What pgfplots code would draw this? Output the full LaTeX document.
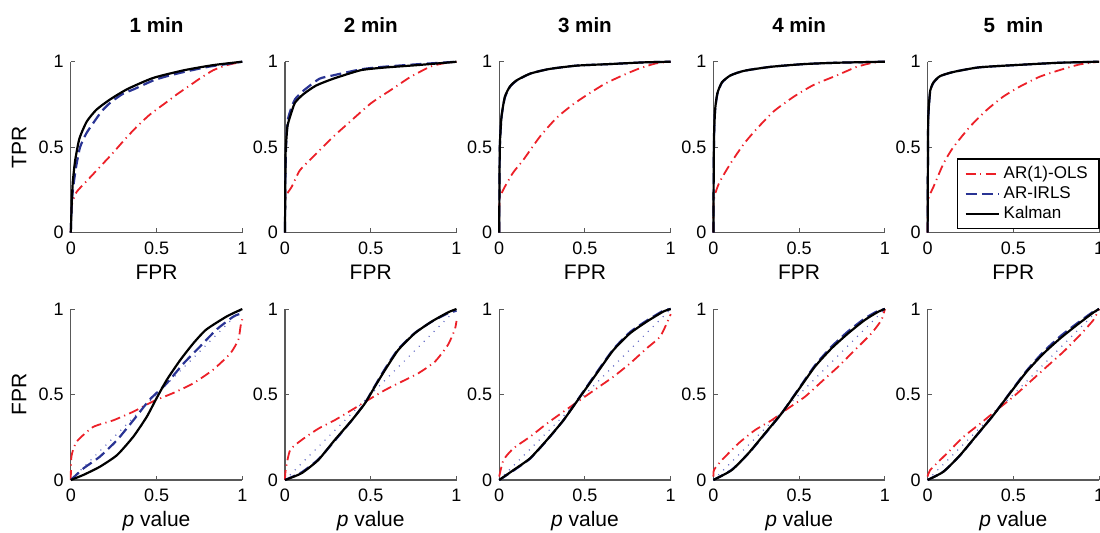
\documentclass[border=0pt]{standalone}
\usepackage{fontspec}
\setmainfont{Liberation Sans}
\usepackage{pgfplots}
\pgfplotsset{compat=1.18}
\definecolor{olsred}{RGB}{236,32,40}
\definecolor{irlsblue}{RGB}{42,52,148}
\definecolor{diagblue}{RGB}{96,104,196}

\pgfplotsset{
  every axis title shift=0pt,
  panel/.style={
    scale only axis, width=85.75pt, height=85.5pt,
    xmin=0, xmax=1, ymin=0, ymax=1,
    axis x line*=bottom, axis y line*=left,
    xtick={0,0.5,1}, ytick={0,0.5,1},
    xticklabels={0,0.5,1}, yticklabels={0,0.5,1},
    tick align=inside, major tick length=2.2pt,
    axis line style={black!65, line width=0.6pt},
    tick style={black!65, line width=0.5pt},
    tick label style={font=\fontsize{9}{10}\selectfont},
    xticklabel style={yshift=-1pt},
    clip=false,
    xlabel style={at={(axis description cs:0.5,-0.232)}, anchor=center, font=\fontsize{10.5}{12}\selectfont},
    ylabel style={at={(axis description cs:-0.3015,0.5)}, anchor=center, font=\fontsize{10.5}{12}\selectfont},
    title style={at={(axis description cs:0.5,1.215)}, anchor=center, font=\fontsize{10.3}{12}\selectfont\bfseries},
  },
  toprow/.style={panel, xlabel={FPR}},
  botrow/.style={panel, xlabel={\textit{p} value},
    xlabel style={at={(axis description cs:0.5,-0.238)}}},
  ols/.style={color=olsred, line width=0.9pt, dash pattern=on 5pt off 2.2pt on 0.6pt off 2.2pt, smooth, tension=0.35},
  irls/.style={color=irlsblue, line width=1.1pt, dash pattern=on 5.5pt off 2.6pt, smooth, tension=0.35},
  kalman/.style={color=black, line width=1.1pt, smooth, tension=0.35},
  diag/.style={color=diagblue, line width=0.6pt, dash pattern=on 0.5pt off 3pt},
}

\begin{document}
\begin{tikzpicture}
\path[use as bounding box] (0,0) rectangle (550pt,-266pt);

% ---------- top row: ROC ----------
\begin{axis}[toprow, at={(35.4pt,-116.35pt)}, anchor=south west, title={1 min}, ylabel={TPR}]
\addplot[ols] coordinates {(0,0) (0.003,0.12) (0.01,0.18) (0.035,0.24) (0.1,0.31) (0.17,0.385) (0.24,0.46) (0.31,0.54) (0.38,0.615) (0.46,0.69) (0.54,0.75) (0.62,0.81) (0.7,0.865) (0.75,0.9) (0.83,0.95) (0.91,0.98) (1,1)};
\addplot[irls] coordinates {(0,0) (0.005,0.15) (0.012,0.25) (0.03,0.38) (0.054,0.50) (0.09,0.58) (0.13,0.64) (0.18,0.71) (0.23,0.76) (0.3,0.81) (0.37,0.84) (0.48,0.89) (0.56,0.915) (0.66,0.94) (0.8,0.97) (0.9,0.985) (1,1)};
\addplot[kalman] coordinates {(0,0) (0.006,0.19) (0.012,0.3) (0.025,0.42) (0.05,0.55) (0.093,0.65) (0.15,0.72) (0.23,0.78) (0.33,0.84) (0.48,0.905) (0.66,0.95) (0.83,0.98) (1,1)};
\end{axis}

\begin{axis}[toprow, at={(142.5pt,-116.35pt)}, anchor=south west, title={2 min}]
\addplot[ols] coordinates {(0,0) (0.002,0.2) (0.04,0.27) (0.087,0.365) (0.18,0.46) (0.28,0.56) (0.38,0.65) (0.5,0.756) (0.61,0.83) (0.73,0.91) (0.845,0.97) (0.92,0.99) (1,1)};
\addplot[irls] coordinates {(0,0) (0.002,0.3) (0.006,0.5) (0.015,0.65) (0.03,0.71) (0.058,0.78) (0.107,0.83) (0.2,0.9) (0.28,0.92) (0.44,0.955) (0.57,0.97) (0.77,0.985) (1,1)};
\addplot[kalman] coordinates {(0,0) (0.002,0.3) (0.004,0.48) (0.014,0.62) (0.03,0.68) (0.058,0.76) (0.107,0.81) (0.18,0.86) (0.28,0.90) (0.44,0.95) (0.57,0.965) (0.77,0.98) (0.96,0.996) (1,1)};
\end{axis}

\begin{axis}[toprow, at={(249.6pt,-116.35pt)}, anchor=south west, title={3 min}]
\addplot[ols] coordinates {(0,0) (0.002,0.19) (0.023,0.25) (0.08,0.35) (0.14,0.425) (0.236,0.56) (0.333,0.67) (0.43,0.75) (0.526,0.815) (0.62,0.873) (0.72,0.92) (0.816,0.96) (0.913,0.99) (1,1)};
\addplot[irls] coordinates {(0,0) (0.002,0.34) (0.004,0.51) (0.0135,0.675) (0.033,0.79) (0.062,0.852) (0.1,0.888) (0.18,0.93) (0.29,0.957) (0.45,0.977) (0.64,0.986) (0.84,0.996) (1,1)};
\addplot[kalman] coordinates {(0,0) (0.002,0.35) (0.004,0.52) (0.0135,0.68) (0.033,0.795) (0.062,0.854) (0.1,0.89) (0.18,0.93) (0.29,0.957) (0.45,0.977) (0.64,0.986) (0.84,0.996) (1,1)};
\end{axis}

\begin{axis}[toprow, at={(356.7pt,-116.35pt)}, anchor=south west, title={4 min}]
\addplot[ols] coordinates {(0,0) (0.002,0.19) (0.033,0.29) (0.1,0.405) (0.178,0.52) (0.255,0.61) (0.352,0.71) (0.468,0.795) (0.584,0.864) (0.72,0.92) (0.836,0.97) (0.93,0.994) (1,1)};
\addplot[irls] coordinates {(0,0) (0.002,0.39) (0.004,0.57) (0.01,0.715) (0.023,0.81) (0.05,0.878) (0.1,0.92) (0.18,0.947) (0.333,0.97) (0.526,0.986) (0.72,0.994) (1,1)};
\addplot[kalman] coordinates {(0,0) (0.002,0.4) (0.004,0.58) (0.01,0.72) (0.023,0.815) (0.05,0.88) (0.1,0.92) (0.18,0.947) (0.333,0.97) (0.526,0.986) (0.72,0.994) (1,1)};
\end{axis}

\begin{axis}[toprow, at={(463.8pt,-116.35pt)}, anchor=south west, title={5~~min},
  legend style={at={(rel axis cs:1.003,0.02)}, anchor=south east, draw=black, line width=0.8pt,
    fill=white, font=\fontsize{8.5}{10}\selectfont, inner xsep=3.5pt, inner ysep=1.5pt,
    row sep=-1.5pt, cells={anchor=west}},
  legend image code/.code={\draw[#1] (0pt,0pt) -- (16.5pt,0pt);}]
\addplot[ols] coordinates {(0,0) (0.003,0.19) (0.035,0.27) (0.093,0.405) (0.15,0.5) (0.247,0.62) (0.344,0.717) (0.44,0.795) (0.537,0.854) (0.653,0.912) (0.77,0.951) (0.886,0.984) (1,1)};
\addplot[irls] coordinates {(0,0) (0.002,0.44) (0.004,0.67) (0.015,0.825) (0.035,0.878) (0.073,0.915) (0.15,0.94) (0.3,0.967) (0.54,0.982) (0.77,0.994) (1,1)};
\addplot[kalman] coordinates {(0,0) (0.002,0.45) (0.004,0.68) (0.015,0.83) (0.035,0.88) (0.073,0.916) (0.15,0.94) (0.3,0.967) (0.54,0.982) (0.77,0.994) (1,1)};
\legend{AR(1)-OLS, AR-IRLS, Kalman}
\end{axis}

% ---------- bottom row: FPR vs p value ----------
\begin{axis}[botrow, at={(35.4pt,-240pt)}, anchor=south west, ylabel={FPR}]
\addplot[diag] coordinates {(0,0) (1,1)};
\addplot[ols] coordinates {(0,0) (0.004,0.14) (0.035,0.225) (0.13,0.31) (0.25,0.35) (0.365,0.40) (0.48,0.46) (0.6,0.51) (0.715,0.566) (0.83,0.645) (0.93,0.74) (0.977,0.82) (0.99,0.9) (1,0.94)};
\addplot[irls] coordinates {(0,0) (0.074,0.068) (0.17,0.137) (0.27,0.234) (0.365,0.35) (0.46,0.47) (0.56,0.566) (0.656,0.68) (0.753,0.78) (0.85,0.88) (0.95,0.957) (1,0.975)};
\addplot[kalman] coordinates {(0,0) (0.074,0.03) (0.17,0.078) (0.27,0.146) (0.365,0.254) (0.443,0.37) (0.5,0.478) (0.56,0.586) (0.637,0.70) (0.715,0.80) (0.79,0.88) (0.91,0.957) (1,1)};
\end{axis}

\begin{axis}[botrow, at={(142.5pt,-240pt)}, anchor=south west]
\addplot[diag] coordinates {(0,0) (1,1)};
\addplot[ols] coordinates {(0,0) (0.004,0.06) (0.03,0.175) (0.097,0.234) (0.194,0.30) (0.29,0.35) (0.39,0.41) (0.485,0.468) (0.583,0.526) (0.68,0.575) (0.777,0.624) (0.874,0.692) (0.95,0.79) (0.99,0.88) (1,0.93)};
\addplot[irls] coordinates {(0,0) (0.097,0.045) (0.194,0.12) (0.29,0.23) (0.39,0.35) (0.466,0.45) (0.524,0.55) (0.583,0.65) (0.66,0.765) (0.757,0.86) (0.854,0.925) (0.95,0.975) (1,0.99)};
\addplot[kalman] coordinates {(0,0) (0.097,0.04) (0.194,0.117) (0.29,0.234) (0.39,0.35) (0.466,0.448) (0.524,0.546) (0.583,0.643) (0.66,0.76) (0.757,0.858) (0.854,0.926) (0.95,0.98) (1,1)};
\end{axis}

\begin{axis}[botrow, at={(249.6pt,-240pt)}, anchor=south west]
\addplot[diag] coordinates {(0,0) (1,1)};
\addplot[ols] coordinates {(0,0.02) (0.025,0.117) (0.083,0.185) (0.18,0.253) (0.278,0.33) (0.375,0.40) (0.472,0.468) (0.569,0.536) (0.666,0.604) (0.763,0.682) (0.86,0.77) (0.938,0.838) (0.986,0.936) (1,0.97)};
\addplot[irls] coordinates {(0,0) (0.083,0.055) (0.18,0.125) (0.278,0.232) (0.375,0.35) (0.472,0.49) (0.569,0.63) (0.666,0.765) (0.763,0.865) (0.86,0.932) (0.957,0.99) (1,1)};
\addplot[kalman] coordinates {(0,0) (0.083,0.058) (0.18,0.127) (0.278,0.234) (0.375,0.35) (0.472,0.487) (0.569,0.624) (0.666,0.76) (0.763,0.858) (0.86,0.926) (0.957,0.985) (1,1)};
\end{axis}

\begin{axis}[botrow, at={(356.7pt,-240pt)}, anchor=south west]
\addplot[diag] coordinates {(0,0) (1,1)};
\addplot[ols] coordinates {(0,0.02) (0.004,0.06) (0.05,0.117) (0.146,0.214) (0.243,0.292) (0.34,0.35) (0.437,0.42) (0.534,0.487) (0.631,0.575) (0.728,0.663) (0.825,0.76) (0.922,0.858) (0.98,0.936) (1,1)};
\addplot[irls] coordinates {(0,0) (0.107,0.06) (0.204,0.155) (0.301,0.27) (0.398,0.39) (0.495,0.53) (0.592,0.67) (0.689,0.78) (0.786,0.87) (0.883,0.945) (0.961,0.99) (1,1)};
\addplot[kalman] coordinates {(0,0) (0.107,0.058) (0.204,0.156) (0.301,0.273) (0.398,0.39) (0.495,0.526) (0.592,0.663) (0.689,0.77) (0.786,0.858) (0.883,0.936) (0.961,0.984) (1,1)};
\end{axis}

\begin{axis}[botrow, at={(463.8pt,-240pt)}, anchor=south west]
\addplot[diag] coordinates {(0,0) (1,1)};
\addplot[ols] coordinates {(0,0.02) (0.015,0.058) (0.113,0.156) (0.21,0.253) (0.307,0.33) (0.404,0.41) (0.5,0.487) (0.598,0.575) (0.695,0.663) (0.792,0.75) (0.889,0.848) (0.967,0.936) (1,1)};
\addplot[irls] coordinates {(0,0) (0.093,0.05) (0.19,0.145) (0.287,0.262) (0.384,0.38) (0.48,0.51) (0.578,0.64) (0.676,0.75) (0.773,0.84) (0.87,0.915) (0.967,0.985) (1,1)};
\addplot[kalman] coordinates {(0,0) (0.093,0.049) (0.19,0.146) (0.287,0.263) (0.384,0.38) (0.48,0.507) (0.578,0.634) (0.676,0.74) (0.773,0.828) (0.87,0.906) (0.967,0.98) (1,1)};
\end{axis}
\end{tikzpicture}
\end{document}
